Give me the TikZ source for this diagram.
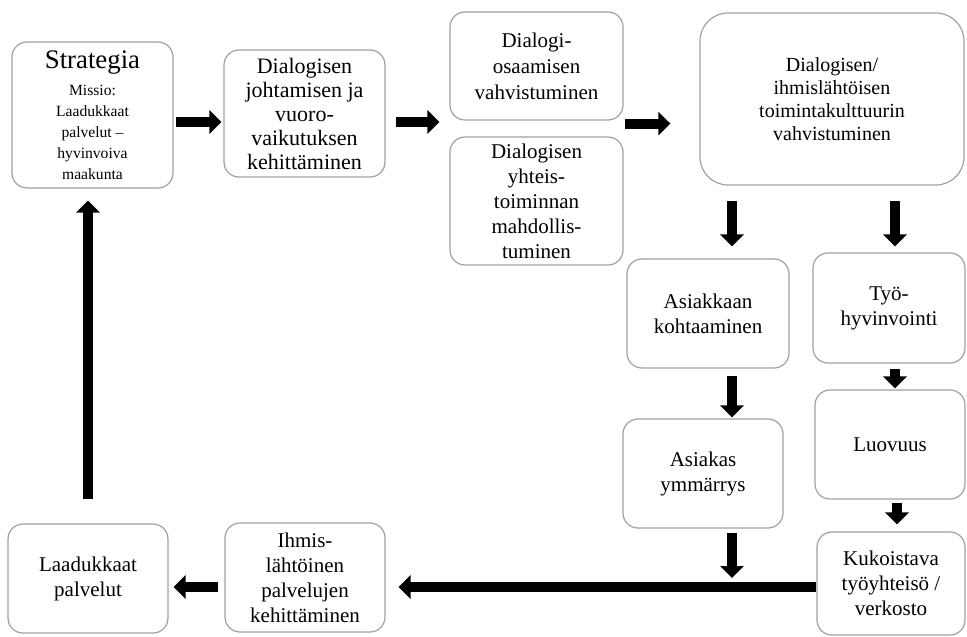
\documentclass[tikz,border=0pt]{standalone}
\usepackage{fontspec}
\setmainfont{Liberation Serif}
\usetikzlibrary{arrows.meta,calc}
\definecolor{edgegray}{RGB}{160,160,160}
\tikzset{
  box/.style={draw=edgegray, line width=1.2pt, rounded corners=15pt,
              align=center, inner sep=0pt, fill=white},
  body/.style={font=\fontsize{21}{25}\selectfont},
  blk/.style={line width=10pt, draw=black,
              -{Triangle[width=23pt,length=12pt]}},
}
\begin{document}
\begin{tikzpicture}[x=1pt,y=-1pt]
\useasboundingbox (0,0) rectangle (967,637);

% process boxes
\node[box, minimum width=161pt, minimum height=146pt,
      font=\fontsize{15.6}{21}\selectfont] (strat) at (92.5,115)
  {{\fontsize{26.8}{27}\selectfont Strategia}\\[6pt]
   Missio:\\Laadukkaat\\palvelut –\\hyvinvoiva\\maakunta};
\node[box, minimum width=161pt, minimum height=127pt,
      font=\fontsize{22}{24}\selectfont] (johto) at (304.5,113.5)
  {Dialogisen\\johtamisen ja\\vuoro-\\vaikutuksen\\kehittäminen};
\node[box, body, minimum width=173pt, minimum height=108pt,
      font=\fontsize{21}{26}\selectfont] (osaam) at (536.5,66)
  {Dialogi-\\osaamisen\\vahvistuminen};
\node[box, body, minimum width=173pt, minimum height=128pt] (yhteis) at (536.5,201)
  {Dialogisen\\yhteis-\\toiminnan\\mahdollis-\\tuminen};
\node[box, rounded corners=28pt, minimum width=264pt, minimum height=172pt,
      font=\fontsize{20}{23}\selectfont] (kult) at (832,99)
  {Dialogisen/\\ihmislähtöisen\\toimintakulttuurin\\vahvistuminen};
\node[box, body, minimum width=162pt, minimum height=109pt] (kohtaa) at (708,313.5)
  {Asiakkaan\\kohtaaminen};
\node[box, body, minimum width=152pt, minimum height=110pt] (tyohyv) at (889,308)
  {Työ-\\hyvinvointi};
\node[box, body, minimum width=160pt, minimum height=109pt] (asiak) at (703,473.5)
  {Asiakas\\ymmärrys};
\node[box, body, minimum width=150pt, minimum height=109pt] (luov) at (890,444.5)
  {Luovuus};
\node[box, body, minimum width=148pt, minimum height=103pt] (kukoist) at (891,583.5)
  {Kukoistava\\työyhteisö /\\verkosto};
\node[box, body, minimum width=160pt, minimum height=109pt] (ihmis) at (305,577.5)
  {Ihmis-\\lähtöinen\\palvelujen\\kehittäminen};
\node[box, body, minimum width=160pt, minimum height=109pt] (laatu) at (88,578.5)
  {Laadukkaat\\palvelut};

% block arrows along the upper row
\draw[blk] ($(strat.east)+(2,7)$) -- ($(strat.east -| johto.west)+(-2,7)$);
\draw[blk] ($(johto.east)+(10,8.5)$) -- ($(johto.east -| osaam.west)+(-10,8.5)$);
\draw[blk] ($(osaam.south east)+(1,3)$) -- ($(osaam.south east -| kult.west)+(-29,3)$);

% block arrows down the two columns
\draw[blk] ($(kohtaa.north |- kult.south)+(24,15)$) -- ($(kohtaa.north)+(24,-12)$);
\draw[blk] ($(tyohyv.north |- kult.south)+(6,15)$) -- ($(tyohyv.north)+(6,-6)$);
\draw[blk] ($(kohtaa.south)+(24,7)$) -- ($(asiak.north -| kohtaa.south)+(24,-1)$);
\draw[blk] ($(tyohyv.south)+(6,5)$) -- ($(luov.north -| tyohyv.south)+(6,-1)$);
\draw[blk] ($(luov.south)+(7,3)$) -- ($(kukoist.north -| luov.south)+(7,-7)$);
\draw[blk] ($(asiak.south)+(29,4)$) -- ($(kukoist.west -| asiak.south)+(29,-5.5)$);

% return path along the bottom and back up
\draw[blk] ($(kukoist.west)+(0,3.5)$) -- ($(kukoist.west -| ihmis.east)+(13,3.5)$);
\draw[blk] ($(ihmis.west)+(-6,9.5)$) -- ($(ihmis.west -| laatu.east)+(5,9.5)$);
\draw[blk] ($(laatu.north)+(0,-24)$) -- ($(strat.south -| laatu.north)+(0,12)$);
\end{tikzpicture}
\end{document}
